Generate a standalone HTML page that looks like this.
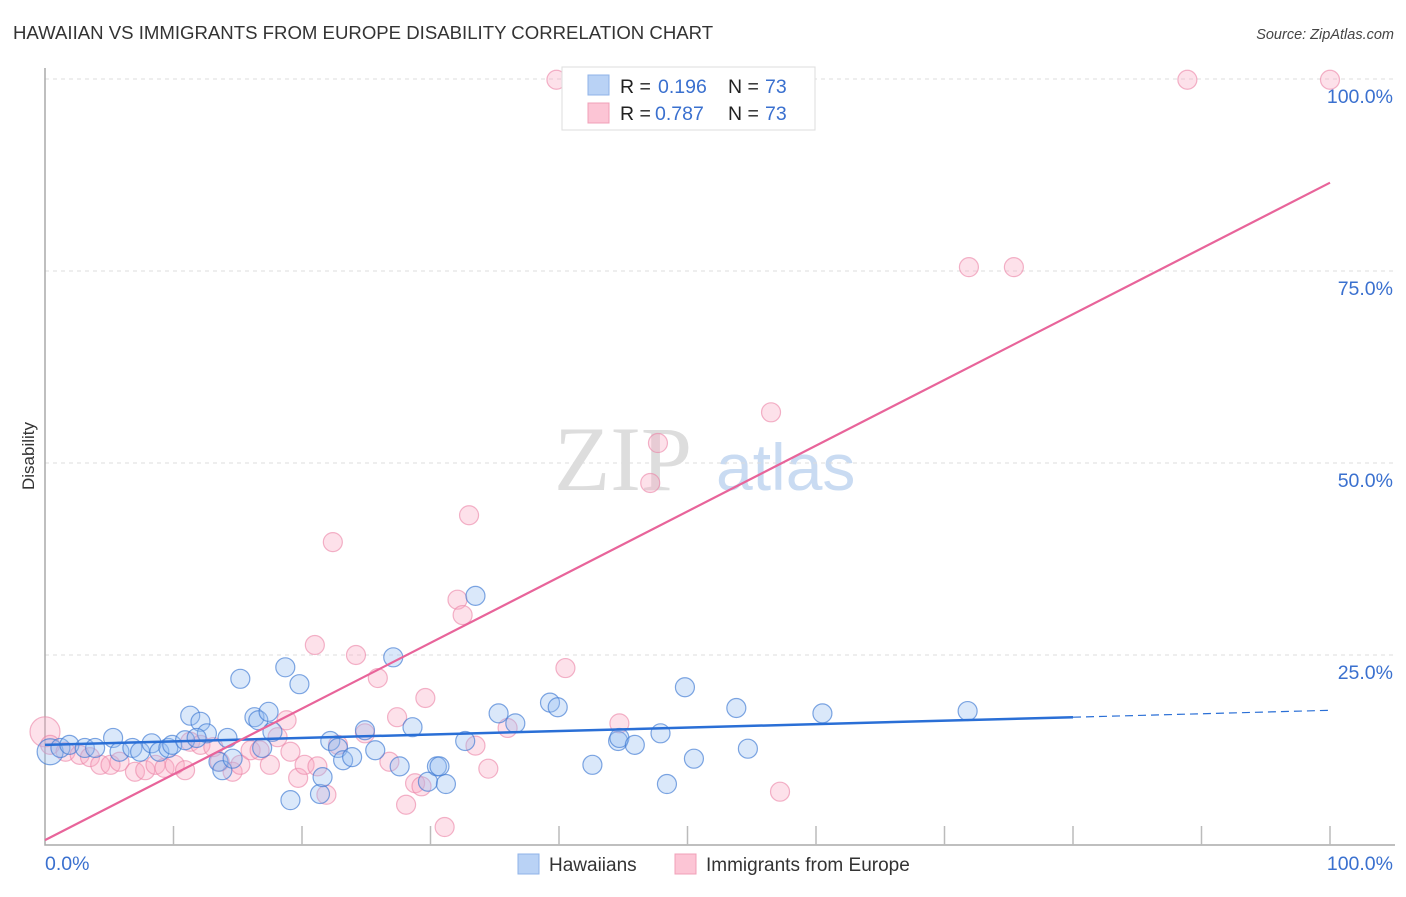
<!DOCTYPE html>
<html><head><meta charset="utf-8"><style>
body{margin:0;background:#fff;font-family:"Liberation Sans",sans-serif}
</style></head><body>
<svg width="1406" height="892" xmlns="http://www.w3.org/2000/svg" font-family="Liberation Sans, sans-serif">
<text x="13" y="39" font-size="18.6" fill="#333">HAWAIIAN VS IMMIGRANTS FROM EUROPE DISABILITY CORRELATION CHART</text>
<text x="1394" y="39" font-size="14.5" fill="#444" font-style="italic" text-anchor="end">Source: ZipAtlas.com</text>
<text x="554" y="490" font-size="92" fill="#ddd" font-family="Liberation Serif, serif">ZIP</text>
<text x="716" y="490" font-size="66" fill="#c9dbf2">atlas</text>
<text x="34" y="456" font-size="17" fill="#333" transform="rotate(-90 34 456)" text-anchor="middle">Disability</text>
<g id="grid"></g><g id="pts"></g><g id="lines"></g>
<g>
<rect x="562" y="67" width="253" height="63" fill="#fff" stroke="#ddd"/>
<rect x="588" y="75" width="21" height="20" fill="#b9d2f5" stroke="#8fb3e8"/>
<rect x="588" y="103" width="21" height="20" fill="#fcc5d5" stroke="#f0a0b8"/>
<text y="93" font-size="19.5"><tspan x="620" fill="#222">R = </tspan><tspan x="658" fill="#3a70cf">0.196</tspan><tspan x="728" fill="#222">N = </tspan><tspan x="765" fill="#3a70cf">73</tspan></text>
<text y="120" font-size="19.5"><tspan x="620" fill="#222">R = </tspan><tspan x="655" fill="#3a70cf">0.787</tspan><tspan x="728" fill="#222">N = </tspan><tspan x="765" fill="#3a70cf">73</tspan></text>
</g>
<g>
<rect x="518" y="854" width="21" height="20" fill="#b9d2f5" stroke="#8fb3e8"/>
<text x="549" y="871" font-size="19" fill="#333">Hawaiians</text>
<rect x="675" y="854" width="21" height="20" fill="#fcc5d5" stroke="#f0a0b8"/>
<text x="706" y="871" font-size="19" fill="#333">Immigrants from Europe</text>
</g>
<text x="45" y="870" font-size="19.5" fill="#3a70cf">0.0%</text>
<text x="1393" y="870" font-size="19.5" fill="#3a70cf" text-anchor="end">100.0%</text>
</svg>
<script>
const yTicks=[25,50,75,100];
const yTickLabels=["25.0%","50.0%","75.0%","100.0%"];
const xTicks=[10,20,30,40,50,60,70,80,90,100];
const blueX=[0.4,1.2,1.9,3.1,3.9,5.3,5.8,6.8,7.4,8.3,8.9,9.6,9.9,10.9,11.3,12.1,12.6,11.8,13.5,13.8,14.2,14.6,15.2,16.3,16.6,16.9,17.4,17.7,18.7,19.1,19.8,21.4,21.6,22.2,22.8,23.2,23.9,24.9,25.7,27.1,27.6,28.6,29.8,30.5,30.7,31.2,32.7,33.5,35.3,36.6,39.3,39.9,42.6,44.6,44.7,45.9,47.9,48.4,49.8,50.5,53.8,54.7,60.5,71.8];
const blueY=[12.4,12.9,13.3,12.9,12.9,14.2,12.4,12.9,12.4,13.5,12.4,12.9,13.3,13.9,17.1,16.3,14.8,14.2,11.1,10.0,14.2,11.5,21.9,16.9,16.5,12.9,17.6,15.0,23.4,6.1,21.2,6.9,9.1,13.8,12.9,11.3,11.7,15.2,12.6,24.7,10.5,15.6,8.5,10.5,10.5,8.2,13.8,32.7,17.4,16.1,18.8,18.2,10.7,13.8,14.2,13.3,14.8,8.2,20.8,11.5,18.1,12.8,17.4,17.7];
const pinkX=[0,0.4,1.6,2.7,3.5,4.3,5.1,5.8,7.0,7.8,8.6,9.3,10.1,10.9,11.3,12.1,13.1,13.6,14.6,15.2,16.0,16.7,17.5,18.1,18.8,19.1,19.7,20.2,21.0,21.2,21.9,22.4,22.8,24.2,24.9,25.9,26.8,27.4,28.1,28.8,29.3,29.6,31.1,32.1,32.5,33.0,33.5,34.5,36.0,39.8,40.5,44.7,47.1,47.7,56.5,57.2,71.9,75.4,88.9,100];
const pinkY=[15.0,13.3,12.4,12.0,11.7,10.7,10.7,11.1,9.8,10.0,10.7,10.3,10.7,10.0,13.7,13.3,13.0,11.1,9.8,10.7,12.6,12.6,10.7,14.3,16.5,12.4,9.0,10.7,26.3,10.5,6.8,39.7,13.3,25.0,14.8,22.0,11.1,16.9,5.5,8.3,7.9,19.4,2.6,32.2,30.2,43.2,13.2,10.2,15.5,99.9,23.3,16.1,47.4,52.6,56.6,7.2,75.5,75.5,99.9,99.9];
const blueTrend=[13.3,17.8];
const pinkTrend=[0.9,86.5];
const X=v=>45+v*12.85, Y=v=>847-v*7.68;
const NS="http://www.w3.org/2000/svg";
function mk(t,a,p){const e=document.createElementNS(NS,t);for(const k in a)e.setAttribute(k,a[k]);p.appendChild(e);return e;}
const grid=document.getElementById('grid');
yTicks.forEach((t,i)=>{
 const l=mk('line',{x1:45,x2:1395,y1:Y(t),y2:Y(t),stroke:'#ddd','stroke-dasharray':'4,4'},grid);
 
 
 const tx=mk('text',{x:1393,y:Y(t)+24,'font-size':19.5,fill:'#3a70cf','text-anchor':'end'},grid);
 tx.textContent=yTickLabels[i];
 
 
});
const ax=mk('path',{d:'M45,68 V845 H1395',fill:'none',stroke:'#aaa','stroke-width':1.5},grid);


xTicks.forEach(t=>{
 const l=mk('line',{x1:X(t),x2:X(t),y1:826,y2:845,stroke:'#bbb','stroke-width':1.5},grid);
 
 
});
const pts=document.getElementById('pts');
pinkX.forEach((x,i)=>{
 const c=mk('circle',{cx:X(x),cy:Y(pinkY[i]),r:i==0?15:9.5,fill:'rgba(248,170,195,0.35)',stroke:'rgba(235,130,165,0.6)','stroke-width':1.2},pts);
 
 
});
blueX.forEach((x,i)=>{
 const c=mk('circle',{cx:X(x),cy:Y(blueY[i]),r:i==0?13:9.5,fill:'rgba(150,190,240,0.35)',stroke:'rgba(60,120,210,0.65)','stroke-width':1.2},pts);
 
 
});
const lines=document.getElementById('lines');
const bAt=x=>blueTrend[0]+(blueTrend[1]-blueTrend[0])*x/100;
let l1=mk('line',{x1:X(0),y1:Y(bAt(0)),x2:X(80),y2:Y(bAt(80)),stroke:'#2a6fd6','stroke-width':2.5},lines);


let l2=mk('line',{x1:X(80),y1:Y(bAt(80)),x2:X(100),y2:Y(bAt(100)),stroke:'#2a6fd6','stroke-width':1.2,'stroke-dasharray':'8,5'},lines);


let l3=mk('line',{x1:X(0),y1:Y(pinkTrend[0]),x2:X(100),y2:Y(pinkTrend[1]),stroke:'#e8649a','stroke-width':2.2},lines);


</script>
</body></html>
